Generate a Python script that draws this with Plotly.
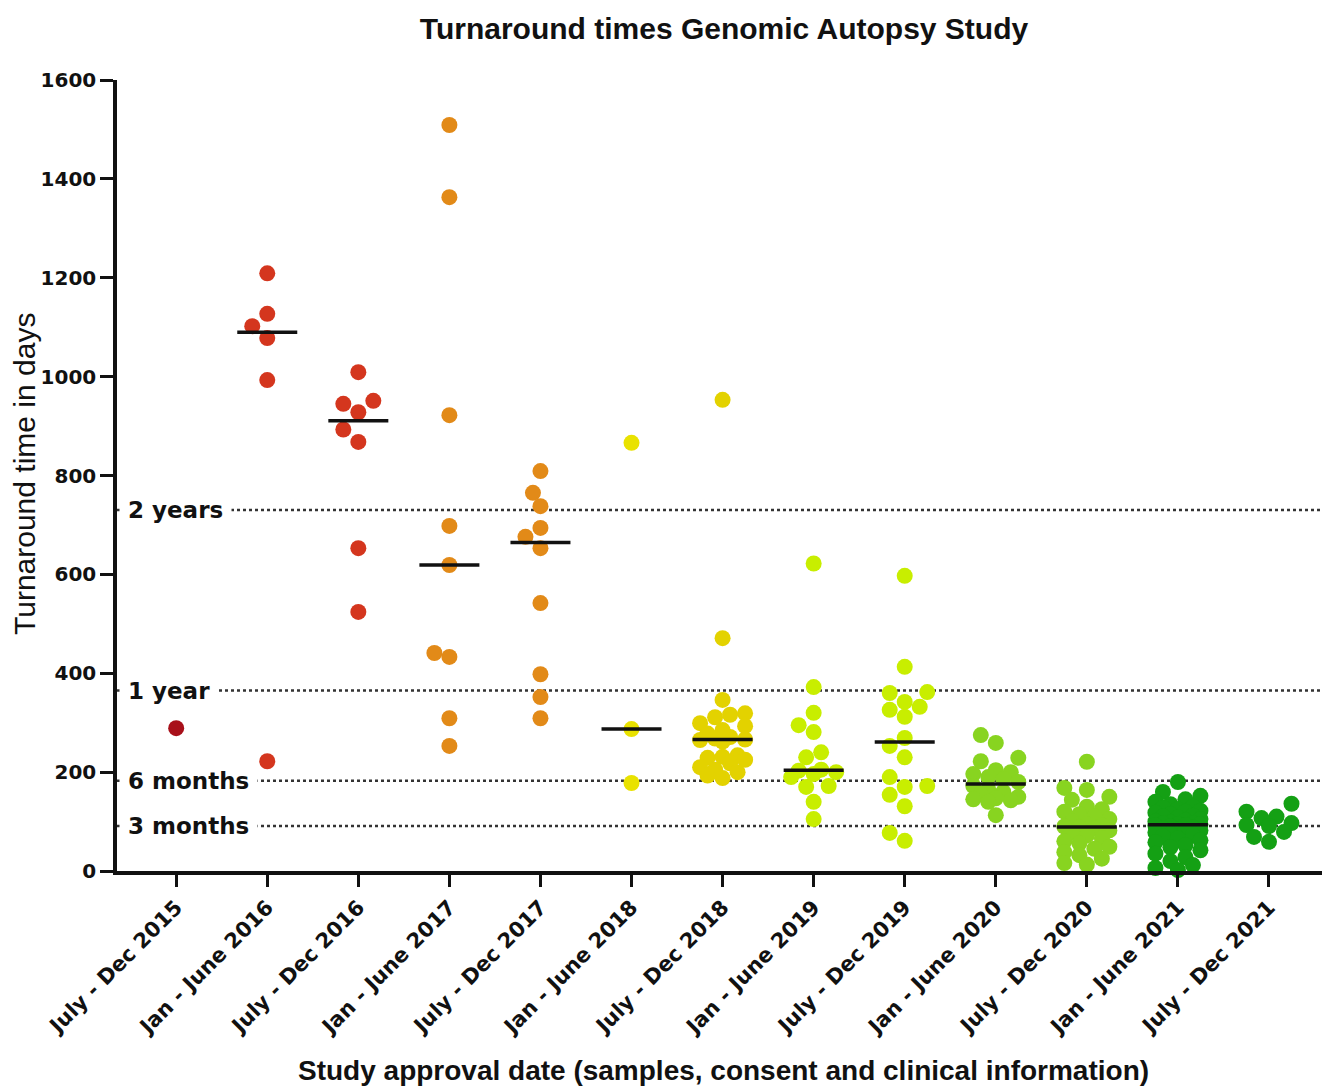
import numpy as np
import plotly.graph_objects as go

categories = ["July - Dec 2015", "Jan - June 2016", "July - Dec 2016", "Jan - June 2017",
              "July - Dec 2017", "Jan - June 2018", "July - Dec 2018", "Jan - June 2019",
              "July - Dec 2019", "Jan - June 2020", "July - Dec 2020", "Jan - June 2021",
              "July - Dec 2021"]

jul_dec_2015 = [289]
jan_jun_2016 = [1209, 1127, 1102, 1078, 993, 222]
jul_dec_2016 = [1009, 951, 945, 928, 893, 868, 653, 524]
jan_jun_2017 = [1509, 1363, 922, 698, 619, 441, 433, 309, 253]
jul_dec_2017 = [809, 765, 738, 694, 676, 653, 542, 398, 352, 309]
jan_jun_2018 = [866, 287, 178]
jul_dec_2018 = [953, 471, 346, 319, 316, 311, 299, 293, 285, 278, 271, 268, 266, 265,
                262, 234, 231, 229, 225, 218, 210, 205, 200, 193, 188]
jan_jun_2019 = [622, 372, 320, 295, 281, 240, 230, 205, 203, 200, 196, 190, 172, 170, 140, 105]
jul_dec_2019 = [597, 413, 362, 360, 342, 332, 326, 312, 269, 253, 230, 190, 172, 170, 154,
                131, 77, 61]
jan_jun_2020 = [275, 259, 229, 222, 204, 200, 196, 190, 186, 180, 172, 165, 160, 155, 150,
                147, 145, 143, 140, 113]
jul_dec_2020 = [221, 168, 164, 150, 144, 130, 125, 120, 115, 110, 105, 100, 95, 92, 90, 88,
                86, 82, 78, 72, 66, 60, 56, 49, 45, 38, 32, 25, 16, 13]
jan_jun_2021 = [180, 160, 152, 145, 140, 135, 130, 128, 125, 122, 120, 118, 115, 112, 110,
                108, 105, 102, 100, 98, 97, 96, 95, 94, 93, 92, 90, 88, 86, 84, 82, 80, 78,
                75, 72, 70, 66, 62, 58, 52, 48, 42, 35, 28, 20, 12, 6, 2]
jul_dec_2021 = [136, 120, 110, 107, 97, 93, 91, 79, 69, 59]

series = [jul_dec_2015, jan_jun_2016, jul_dec_2016, jan_jun_2017, jul_dec_2017, jan_jun_2018,
          jul_dec_2018, jan_jun_2019, jul_dec_2019, jan_jun_2020, jul_dec_2020, jan_jun_2021,
          jul_dec_2021]

colors = ["#A8101A", "#D4361E", "#D4361E", "#E28A18", "#E28A18", "#E9E200", "#E3D200",
          "#C8EE00", "#C8EE00", "#88D420", "#88D420", "#14A014", "#14A014"]

show_median = [False] + [True] * 11 + [False]

ref_values = [730, 365, 182.5, 91.25]
ref_labels = ["2 years", "1 year", "6 months", "3 months"]

# ---- layout geometry (page body has an 8px margin) ----
OFF = 8
W, H = 1330 - OFF, 1087 - OFF
ML, MR, MT = 117 - OFF, 0, 80 - OFF
MB = H - (871 - OFF)
XR = [-0.65, 12.67]
YR = [0, 1600]
PW = W - ML - MR
PH = H - MT - MB
PXX = PW / (XR[1] - XR[0])
PXY = PH / (YR[1] - YR[0])
DIAM = 16


def swarm(vals, step=7.5, maxoff=22.5):
    vals = np.asarray(vals, dtype=float)
    order = np.argsort(vals, kind="stable")
    cands = [0.0]
    k = 1
    while k * step <= maxoff + 1e-9:
        cands += [-k * step, k * step]
        k += 1
    placed = []
    offs = np.zeros(len(vals))
    for idx in order:
        y = vals[idx] * PXY
        best, bestd = 0.0, -1
        for c in cands:
            d = min((np.hypot(c - px, y - py) for px, py in placed), default=np.inf)
            if d >= DIAM * 0.95:
                best = c
                break
            if d > bestd:
                bestd, best = d, c
        placed.append((best, y))
        offs[idx] = best / PXX
    return offs


def px_x(p):  # page pixel -> paper x
    return (p - OFF - ML) / PW


def px_y(p):  # page pixel -> paper y
    return (H - MB - (p - OFF)) / PH


fig = go.Figure()

for i, vals in enumerate(series):
    offs = swarm(vals)
    fig.add_trace(go.Scatter(
        x=i + offs, y=vals, mode="markers",
        marker=dict(size=DIAM, color=colors[i], line=dict(width=0)),
        cliponaxis=False, showlegend=False, hoverinfo="y"))

half = 30 / PXX
for i, vals in enumerate(series):
    if show_median[i]:
        m = float(np.median(vals))
        fig.add_trace(go.Scatter(
            x=[i - half, i + half], y=[m, m], mode="lines",
            line=dict(color="#111111", width=3.5),
            cliponaxis=False, showlegend=False, hoverinfo="skip"))

for v, lab in zip(ref_values, ref_labels):
    fig.add_shape(type="line", xref="paper", x0=0, x1=1, yref="y", y0=v, y1=v,
                  line=dict(color="#333333", width=2.5, dash="dot"), layer="below")
    fig.add_annotation(xref="paper", x=2 / PW, xanchor="left",
                       yref="y", y=v, yanchor="middle", text="\u00a0" + lab + "\u00a0",
                       showarrow=False, bgcolor="white", borderpad=0,
                       font=dict(family="DejaVu Sans", size=23, color="#111111",
                                 weight="bold"))

tick_font = dict(family="DejaVu Sans", size=20, color="#111111", weight="bold")

fig.update_layout(
    width=W, height=H,
    margin=dict(l=ML, r=MR, t=MT, b=MB),
    plot_bgcolor="white", paper_bgcolor="white",
    title=dict(text="<b>Turnaround times Genomic Autopsy Study</b>",
               font=dict(family="Liberation Sans", size=30, color="#111111"),
               xref="container", x=(724 - OFF) / W, xanchor="center",
               yref="container", y=1 - (28 - OFF) / H, yanchor="middle"),
    xaxis=dict(range=XR, tickmode="array", tickvals=list(range(len(categories))),
               ticktext=categories, tickangle=-45, ticks="outside", ticklen=12,
               tickwidth=3, tickcolor="#111111", showline=True, linewidth=3.5,
               linecolor="#111111", showgrid=False, zeroline=False,
               tickfont=dict(family="DejaVu Sans", size=21, color="#111111",
                             weight="bold")),
    yaxis=dict(range=YR, tickmode="array", tickvals=list(range(0, 1601, 200)),
               ticks="outside", ticklen=13, tickwidth=3, tickcolor="#111111",
               showline=True, linewidth=3.5, linecolor="#111111", showgrid=False,
               zeroline=False, tickfont=tick_font),
)

fig.add_annotation(xref="paper", x=px_x(723), xanchor="center",
                   yref="paper", y=px_y(1070), yanchor="middle",
                   text="<b>Study approval date (samples, consent and clinical information)</b>",
                   showarrow=False,
                   font=dict(family="Liberation Sans", size=28, color="#111111"))
fig.add_annotation(xref="paper", x=px_x(24), xanchor="center",
                   yref="paper", y=px_y(474), yanchor="middle",
                   text="Turnaround time in days", textangle=-90, showarrow=False,
                   font=dict(family="Liberation Sans", size=30, color="#111111"))

fig.write_html("out.html")
